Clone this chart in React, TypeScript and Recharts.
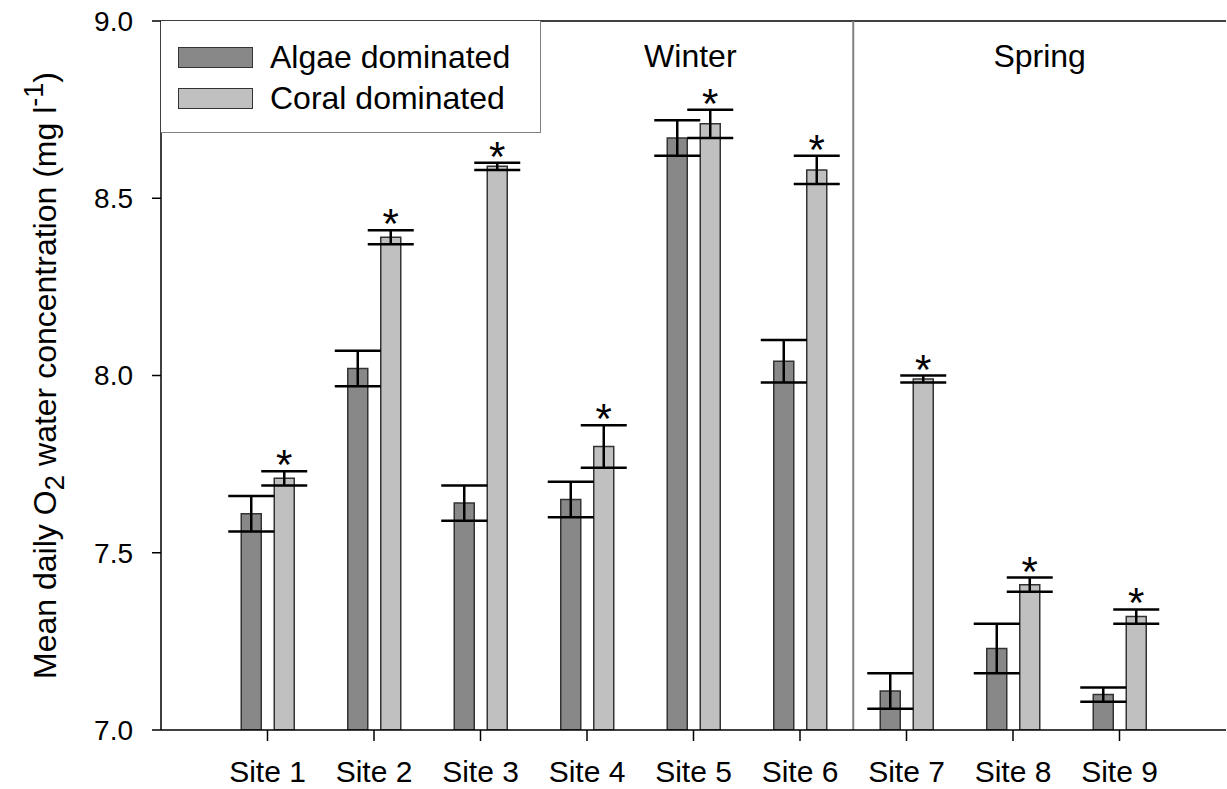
import React from "react";
import {
  ComposedChart,
  Bar,
  XAxis,
  YAxis,
  ErrorBar,
  ReferenceLine,
  Rectangle,
} from "recharts";

const sites = ["Site 1", "Site 2", "Site 3", "Site 4", "Site 5", "Site 6", "Site 7", "Site 8", "Site 9"];
const algae = [7.61, 8.02, 7.64, 7.65, 8.67, 8.04, 7.11, 7.23, 7.1];
const algaeErr = [0.05, 0.05, 0.05, 0.05, 0.05, 0.06, 0.05, 0.07, 0.02];
const coral = [7.71, 8.39, 8.59, 7.8, 8.71, 8.58, 7.99, 7.41, 7.32];
const coralErr = [0.02, 0.02, 0.01, 0.06, 0.04, 0.04, 0.01, 0.02, 0.02];
const yTicks = [7.0, 7.5, 8.0, 8.5, 9.0];
const seriesNames = ["Algae dominated", "Coral dominated"];
const seasons = [
  { name: "Winter", pos: 4.97 },
  { name: "Spring", pos: 8.25 },
];
// season boundary sits between Site 6 and Site 7
const SEASON_SPLIT = 6.5;

const Y_MIN = 7;
const Y_MAX = 9;
const W = 1227;
const H = 789;
const LEFT = 161;
const RIGHT_MARGIN = 1;
const PLOT_W = W - LEFT - RIGHT_MARGIN;
const HALF_BAND = PLOT_W / 20;

const FONT = '"Liberation Sans", Arial, sans-serif';
const ALGAE_FILL = "#888888";
const CORAL_FILL = "#c0c0c0";
const BAR_STROKE = "#333333";

const data = sites.map((site, i) => ({
  site,
  pos: i + 1,
  algae: algae[i],
  algaeErr: algaeErr[i],
  coral: coral[i],
  coralErr: coralErr[i],
}));

// coral bar with the significance star above its error bar
function CoralBar(props: any) {
  const { x, y, width, height, payload } = props;
  const perUnit = height / (payload.coral - Y_MIN);
  const errTop = y - payload.coralErr * perUnit;
  return (
    <g>
      <Rectangle x={x} y={y} width={width} height={height} fill={CORAL_FILL} stroke={BAR_STROKE} strokeWidth={1.5} />
      <text x={x + width / 2} y={errTop + 8} textAnchor="middle" fontSize={42} fontFamily={FONT} fill="#000">
        *
      </text>
    </g>
  );
}

function YTitle(props: any) {
  const vb = props.viewBox;
  const cx = 56;
  const cy = vb.y + vb.height / 2;
  return (
    <text
      x={cx}
      y={cy}
      transform={`rotate(-90, ${cx}, ${cy})`}
      textAnchor="middle"
      fontSize={32}
      fontFamily={FONT}
      fill="#000"
    >
      Mean daily O
      <tspan fontSize={28} dy={8}>2</tspan>
      <tspan dy={-8}> water concentration (mg l</tspan>
      <tspan fontSize={27} dy={-13}>-1</tspan>
      <tspan dy={13}>)</tspan>
    </text>
  );
}

function SeasonLabel(props: any) {
  const vb = props.viewBox;
  return (
    <text x={vb.x} y={vb.y + 46} textAnchor="middle" fontSize={32} fontFamily={FONT} fill="#000">
      {props.text}
    </text>
  );
}

function LegendBox() {
  const fills = [ALGAE_FILL, CORAL_FILL];
  return (
    <div
      style={{
        position: "absolute",
        left: LEFT,
        top: 21,
        width: 380,
        height: 112,
        borderRight: "1.5px solid #808080",
        borderBottom: "1.5px solid #808080",
        boxSizing: "border-box",
        fontFamily: FONT,
        fontSize: 32,
        background: "#fff",
      }}
    >
      {seriesNames.map((name, i) => (
        <div
          key={name}
          style={{ position: "absolute", left: 17, top: 21 + i * 41, height: 30, display: "flex", alignItems: "center" }}
        >
          <div style={{ width: 75, height: 21, background: fills[i], border: `1.5px solid ${BAR_STROKE}`, boxSizing: "border-box" }} />
          <span style={{ marginLeft: 17, lineHeight: "30px" }}>{name}</span>
        </div>
      ))}
    </div>
  );
}

export default function App() {
  return (
    <div style={{ position: "relative", width: W, height: H, background: "#fff" }}>
      <style>{`body { margin: 0; }`}</style>
      <ComposedChart
        width={W}
        height={H}
        data={data}
        margin={{ top: 21, right: RIGHT_MARGIN, bottom: 0, left: 0 }}
        barGap={13}
      >
        <XAxis
          dataKey="site"
          height={59}
          padding={{ left: HALF_BAND, right: HALF_BAND }}
          tickSize={11}
          tickMargin={20}
          axisLine={{ stroke: "#000", strokeWidth: 1.5 }}
          tickLine={{ stroke: "#000", strokeWidth: 1.5 }}
          tick={{ fontSize: 30, fontFamily: FONT, fill: "#000" }}
          interval={0}
        />
        <XAxis xAxisId="pos" dataKey="pos" type="number" domain={[0, 10]} allowDataOverflow hide />
        <YAxis
          width={LEFT}
          domain={[Y_MIN, Y_MAX]}
          ticks={yTicks}
          allowDataOverflow
          tickFormatter={(v: number) => v.toFixed(1)}
          tickSize={9}
          tickMargin={19}
          axisLine={{ stroke: "#000", strokeWidth: 1.5 }}
          tickLine={{ stroke: "#000", strokeWidth: 1.5 }}
          tick={{ fontSize: 28, fontFamily: FONT, fill: "#000" }}
          label={<YTitle />}
        />
        <YAxis
          yAxisId="frame"
          orientation="right"
          width={0}
          domain={[Y_MIN, Y_MAX]}
          tick={false}
          tickLine={false}
          axisLine={{ stroke: "#999", strokeWidth: 1.5 }}
        />
        <ReferenceLine y={Y_MAX} stroke="#000" strokeWidth={1.5} />
        <ReferenceLine xAxisId="pos" x={SEASON_SPLIT} stroke="#808080" strokeWidth={2} />
        {seasons.map((s) => (
          <ReferenceLine
            key={s.name}
            xAxisId="pos"
            x={s.pos}
            stroke="none"
            label={<SeasonLabel text={s.name} />}
          />
        ))}
        <Bar
          dataKey="algae"
          name={seriesNames[0]}
          barSize={20}
          fill={ALGAE_FILL}
          stroke={BAR_STROKE}
          strokeWidth={1.5}
          isAnimationActive={false}
        >
          <ErrorBar dataKey="algaeErr" width={23} stroke="#000" strokeWidth={2.5} direction="y" isAnimationActive={false} />
        </Bar>
        <Bar
          dataKey="coral"
          name={seriesNames[1]}
          barSize={20}
          fill={CORAL_FILL}
          stroke={BAR_STROKE}
          strokeWidth={1.5}
          shape={<CoralBar />}
          isAnimationActive={false}
        >
          <ErrorBar dataKey="coralErr" width={23} stroke="#000" strokeWidth={2.5} direction="y" isAnimationActive={false} />
        </Bar>
      </ComposedChart>
      <LegendBox />
    </div>
  );
}
